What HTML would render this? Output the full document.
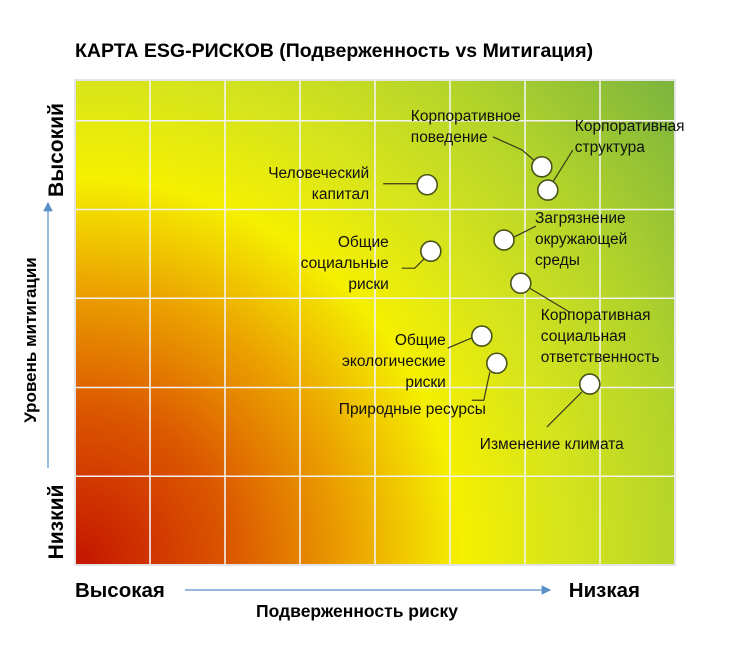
<!DOCTYPE html>
<html><head><meta charset="utf-8"><style>
body{margin:0;background:#fff;}
svg{display:block;font-family:"Liberation Sans","DejaVu Sans",sans-serif;}
</style></head><body>
<svg id="chart" width="744" height="655" viewBox="0 0 744 655" xmlns="http://www.w3.org/2000/svg">
<defs>
<radialGradient id="heat" gradientUnits="userSpaceOnUse" cx="75" cy="565" r="790">
<stop offset="0" stop-color="#c41400"/>
<stop offset="0.2" stop-color="#dc5800"/>
<stop offset="0.35" stop-color="#eba200"/>
<stop offset="0.49" stop-color="#f5f000"/>
<stop offset="0.62" stop-color="#d6e41c"/>
<stop offset="0.77" stop-color="#b4d42a"/>
<stop offset="1" stop-color="#74b040"/>
</radialGradient>
<marker id="arr" markerWidth="8" markerHeight="8" refX="7" refY="4" orient="auto"><path d="M0,0 L8,4 L0,8 z" fill="#5b8fc9"/></marker>
</defs>
<text x="75" y="57" font-size="19.5" font-weight="bold" fill="#000">КАРТА ESG-РИСКОВ (Подверженность vs Митигация)</text>
<rect x="75" y="80" width="600" height="485" fill="url(#heat)" stroke="#e4e4e4" stroke-width="2"/>
<g id="grid"></g>
<g id="leaders" stroke="#3a3a1a" stroke-width="1.2" fill="none"></g>
<g id="points"></g>
<g id="labels" font-size="15.5" fill="#111"></g>
<text transform="translate(63,150) rotate(-90)" text-anchor="middle" font-size="21" font-weight="bold">Высокий</text>
<text transform="translate(63,522) rotate(-90)" text-anchor="middle" font-size="21" font-weight="bold">Низкий</text>
<text transform="translate(36,340) rotate(-90)" text-anchor="middle" font-size="17" font-weight="bold">Уровень митигации</text>
<line x1="48" y1="468" x2="48" y2="203" stroke="#5b8fc9" stroke-width="1.2" marker-end="url(#arr)"/>
<text x="75" y="597" font-size="20.5" font-weight="bold">Высокая</text>
<text x="640" y="597" text-anchor="end" font-size="20.5" font-weight="bold">Низкая</text>
<line x1="185" y1="590" x2="550" y2="590" stroke="#5b8fc9" stroke-width="1.2" marker-end="url(#arr)"/>
<text x="357" y="617" text-anchor="middle" font-size="17.5" font-weight="bold">Подверженность риску</text>
</svg>
<script>
const names = ["Человеческий капитал","Корпоративное поведение","Корпоративная структура","Загрязнение окружающей среды","Общие социальные риски","Корпоративная социальная ответственность","Общие экологические риски","Природные ресурсы","Изменение климата"];
const xValues = [58.7, 77.8, 78.8, 71.5, 59.3, 74.3, 67.8, 70.3, 85.8];
const yValues = [78.4, 82.1, 77.3, 67.0, 64.7, 58.1, 47.2, 41.6, 37.3];
const xGridValues = [12.5, 25, 37.5, 50, 62.5, 75, 87.5];
const yGridValues = [18.3, 36.6, 55, 73.3, 91.6];

const X0=75, X1=675, Y0=565, Y1=80;
function sx(v){return X0+(X1-X0)*v/100;}
function sy(v){return Y0-(Y0-Y1)*v/100;}
const NS="http://www.w3.org/2000/svg";
function mk(tag,attrs,parent){const e=document.createElementNS(NS,tag);for(const k in attrs)e.setAttribute(k,attrs[k]);parent.appendChild(e);return e;}

const grid=document.getElementById('grid');
xGridValues.forEach(v=>{const l=mk('line',{x1:sx(v),x2:sx(v),y1:Y1,y2:Y0,stroke:'#f2f2f2','stroke-width':1.6},grid);

});
yGridValues.forEach(v=>{const l=mk('line',{x1:X0,x2:X1,y1:sy(v),y2:sy(v),stroke:'#f2f2f2','stroke-width':1.6},grid);

});

const layout=[
 {lines:["Человеческий","капитал"],a:"end",dx:-58,dy:-7,lead:[[-44,-1],[-10,-1]]},
 {lines:["Корпоративное","поведение"],a:"start",dx:-131,dy:-46,lead:[[-49,-30],[-20,-17],[-6,-5]]},
 {lines:["Корпоративная","структура"],a:"start",dx:27,dy:-59,lead:[[25,-40],[5,-8]]},
 {lines:["Загрязнение","окружающей","среды"],a:"start",dx:31,dy:-17,lead:[[32,-14],[10,-3]]},
 {lines:["Общие","социальные","риски"],a:"end",dx:-42,dy:-4,lead:[[-29,17],[-16,17],[-6,7]]},
 {lines:["Корпоративная","социальная","ответственность"],a:"start",dx:20,dy:37,lead:[[9,5],[49,29]]},
 {lines:["Общие","экологические","риски"],a:"end",dx:-36,dy:9,lead:[[-34,12],[-8,1]]},
 {lines:["Природные ресурсы"],a:"start",dx:-158,dy:51,lead:[[-25,37],[-13,37],[-7,9]]},
 {lines:["Изменение климата"],a:"start",dx:-110,dy:65,lead:[[-43,43],[-8,8]]}
];
const leaders=document.getElementById('leaders'), pts=document.getElementById('points'), labs=document.getElementById('labels');
names.forEach((n,i)=>{
 const cx=sx(xValues[i]), cy=sy(yValues[i]), L=layout[i];
 const p=mk('polyline',{points:L.lead.map(q=>(cx+q[0])+','+(cy+q[1])).join(' ')},leaders);
 
 
 const c=mk('circle',{cx:cx,cy:cy,r:10,fill:'#fff',stroke:'#4a5418','stroke-width':1.6},pts);
 
 
 const t=mk('text',{x:cx+L.dx,y:cy+L.dy,'text-anchor':L.a},labs);
 
 
 L.lines.forEach((s,j)=>{const ts=mk('tspan',{x:cx+L.dx,dy:j?21:0},t);ts.textContent=s;});
});
</script>
</body></html>
